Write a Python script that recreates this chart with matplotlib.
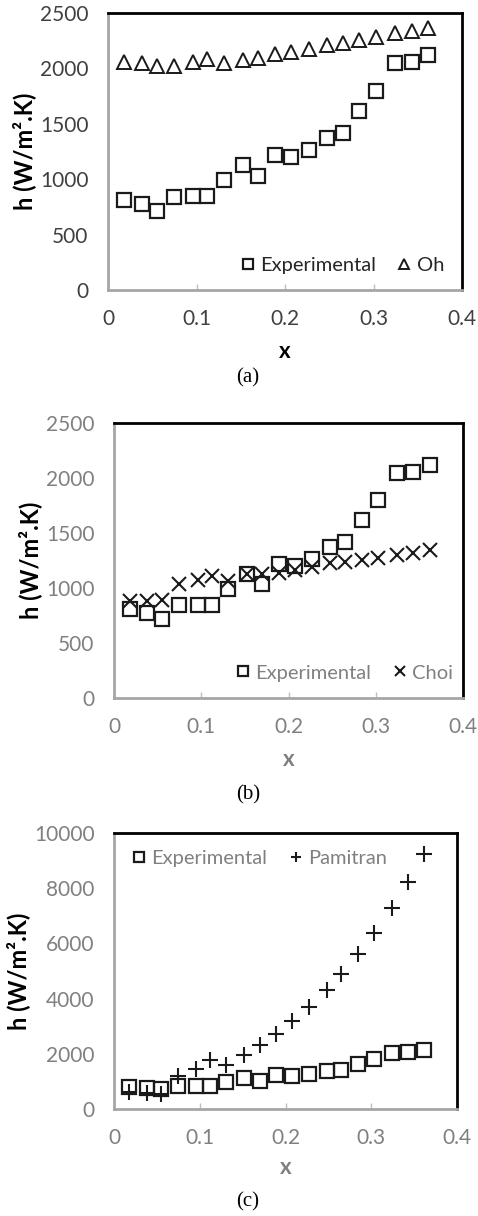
import matplotlib.pyplot as plt

plt.rcParams['font.family'] = ['Lato', 'DejaVu Sans']

# Dati
x_quality = [0.018, 0.038, 0.055, 0.075, 0.096, 0.112, 0.131, 0.152, 0.170, 0.189,
             0.207, 0.227, 0.248, 0.265, 0.284, 0.303, 0.324, 0.343, 0.362]
h_experimental = [812, 776, 716, 842, 848, 848, 993, 1128, 1032, 1215,
                  1203, 1264, 1369, 1420, 1616, 1796, 2046, 2055, 2121]
h_oh = [2061, 2046, 2025, 2025, 2055, 2082, 2052, 2076, 2097, 2127,
        2151, 2172, 2211, 2226, 2256, 2280, 2316, 2341, 2368]
h_choi = [886, 886, 895, 1032, 1077, 1107, 1068, 1129, 1129, 1135,
          1168, 1189, 1226, 1235, 1259, 1274, 1296, 1317, 1341]
h_pamitran = [600, 580, 560, 1206, 1448, 1785, 1604, 1966, 2304, 2714,
              3172, 3679, 4318, 4897, 5621, 6369, 7298, 8227, 9240]

x_ticks = [0, 0.1, 0.2, 0.3, 0.4]
x_ticklabels = ['0', '0.1', '0.2', '0.3', '0.4']

W, H = 478, 1216
fig = plt.figure(figsize=(W / 100, H / 100), dpi=100)


def px_axes(left, top, right, bottom):
    return fig.add_axes([left / W, 1 - bottom / H, (right - left) / W, (bottom - top) / H])


def style_axes(ax, ymax, ystep, tick_color, xlabel_color, xpad):
    ax.set_xlim(0, 0.4)
    ax.set_ylim(0, ymax)
    ax.set_xticks(x_ticks)
    ax.set_xticklabels(x_ticklabels)
    ax.set_yticks(range(0, ymax + 1, ystep))
    ax.tick_params(axis='x', direction='in', length=4, width=1, color='#bfbfbf',
                   labelsize=15, labelcolor=tick_color, pad=14)
    ax.tick_params(axis='y', length=0, labelsize=15, labelcolor=tick_color, pad=14)
    for s in ['top', 'right']:
        ax.spines[s].set_color('black')
        ax.spines[s].set_linewidth(2)
    for s in ['left', 'bottom']:
        ax.spines[s].set_color('#a6a6a6')
        ax.spines[s].set_linewidth(2)
    ax.set_xlabel('x', fontsize=16, fontweight='bold', color=xlabel_color, labelpad=xpad)
    ax.set_ylabel('h (W/m².K)', fontsize=17, fontweight='bold', color='black', labelpad=3)


def add_legend(ax, pos, color):
    ax.legend(loc='center', bbox_to_anchor=pos, ncol=2, frameon=False,
              fontsize=14.5, handlelength=0.6, handletextpad=0.3, columnspacing=1.1,
              markerscale=0.7, labelcolor=color)


sq = dict(marker='s', linestyle='none', markersize=10.5, markerfacecolor='none',
          markeredgecolor='#1a1a1a', markeredgewidth=1.6)

# (a) Oh
ax1 = px_axes(108, 13, 462, 290)
ax1.plot(x_quality, h_experimental, label='Experimental', **sq)
ax1.plot(x_quality, h_oh, marker='^', linestyle='none', markersize=10.5,
         markerfacecolor='none', markeredgecolor='#1a1a1a', markeredgewidth=1.4, label='Oh')
style_axes(ax1, 2500, 500, '#404040', 'black', 8)
add_legend(ax1, (0.664, 0.087), '#262626')

# (b) Choi
ax2 = px_axes(114, 423, 463, 698)
ax2.plot(x_quality, h_experimental, label='Experimental', **sq)
ax2.plot(x_quality, h_choi, marker='x', linestyle='none', markersize=10,
         markeredgecolor='#1a1a1a', markeredgewidth=1.5, label='Choi')
style_axes(ax2, 2500, 500, '#808080', '#7f7f7f', 8)
add_legend(ax2, (0.662, 0.091), '#808080')

# (c) Pamitran
ax3 = px_axes(114, 833, 457, 1109)
ax3.plot(x_quality, h_experimental, label='Experimental', **sq)
ax3.plot(x_quality, h_pamitran, marker='+', linestyle='none', markersize=11,
         markeredgecolor='#1a1a1a', markeredgewidth=1.5, label='Pamitran')
style_axes(ax3, 10000, 2000, '#808080', '#7f7f7f', 6)
add_legend(ax3, (0.426, 0.906), '#808080')

# didascalie
for label, y in [('(a)', 378), ('(b)', 795), ('(c)', 1202)]:
    fig.text(248 / W, 1 - y / H, label, ha='center', va='center', fontsize=15,
             family='Liberation Serif')

fig.savefig('out.png', dpi=100)
